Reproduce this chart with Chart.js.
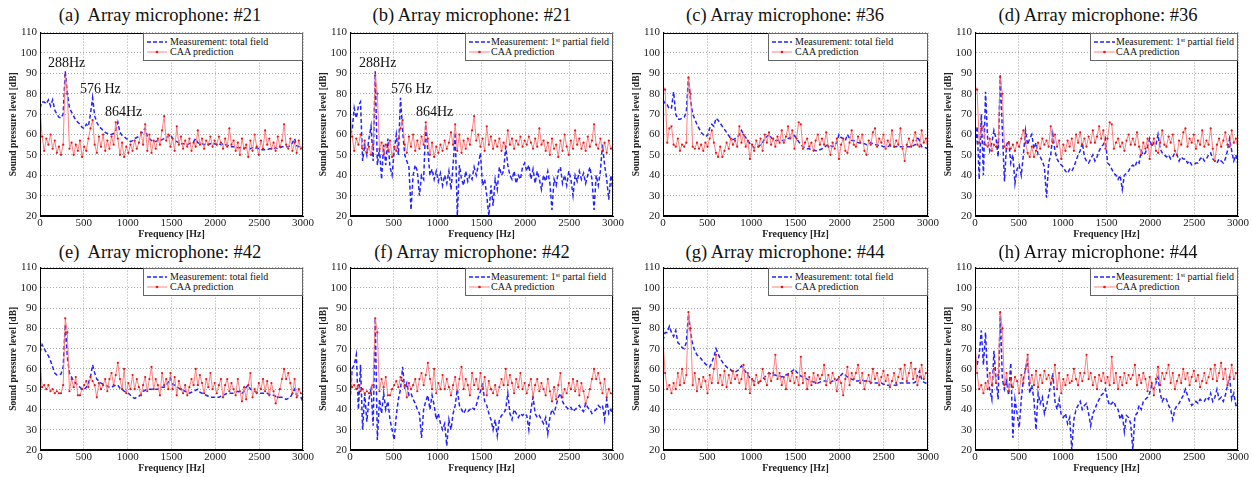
<!DOCTYPE html>
<html>
<head>
<meta charset="utf-8">
<script src="https://cdn.jsdelivr.net/npm/chart.js@4.4.1/dist/chart.umd.min.js"></script>
<style>
  html, body { margin: 0; padding: 0; background: #fff; }
  #page { position: relative; width: 1252px; height: 477px; overflow: hidden; }
  .box { position: absolute; }
  .ttl { position: absolute; white-space: pre; font: 18.5px "Liberation Serif", "DejaVu Serif", serif; color: #111;
         transform: translate(-50%, -50%); line-height: 1; }
  .lgd { position: absolute; background: #fff; border: 1px solid #666; box-sizing: border-box; height: 28px;
         padding-top: 3px; font: 10px "Liberation Serif", serif; color: #111; white-space: nowrap; }
  .lgd .row { height: 10px; line-height: 10px; display: flex; align-items: center; }
  .lgd svg { flex: none; }
  .lgd sup { font-size: 6.5px; vertical-align: 3px; line-height: 0; }
</style>
</head>
<body>
<div id="page"></div>
<script>
/* ═══════════════════════════════════════
   DATA  (frequency grid, 24 Hz steps)
═══════════════════════════════════════ */
const FREQ = [
  0,24,48,72,96,120,144,168,192,216,
  240,264,288,312,336,360,384,408,432,456,
  480,504,528,552,576,600,624,648,672,696,
  720,744,768,792,816,840,864,888,912,936,
  960,984,1008,1032,1056,1080,1104,1128,1152,1176,
  1200,1224,1248,1272,1296,1320,1344,1368,1392,1416,
  1440,1464,1488,1512,1536,1560,1584,1608,1632,1656,
  1680,1704,1728,1752,1776,1800,1824,1848,1872,1896,
  1920,1944,1968,1992,2016,2040,2064,2088,2112,2136,
  2160,2184,2208,2232,2256,2280,2304,2328,2352,2376,
  2400,2424,2448,2472,2496,2520,2544,2568,2592,2616,
  2640,2664,2688,2712,2736,2760,2784,2808,2832,2856,
  2880,2904,2928,2952,2976,3000
];
const X_TICK_STEP = 500;
const Y_TICK_STEP = 10;

// ── mic #21 ──
const CAA_21 = [
  73,59,52,58,55,60,53,57,51,54,
  50,55,89,80,53,56,50,55,52,57,
  49,54,52,58,63,67,55,51,59,54,
  60,52,57,53,59,55,66,58,50,56,
  49,54,51,55,52,57,53,56,61,55,
  65,52,60,51,57,53,58,55,62,69,
  57,60,54,58,52,64,55,59,53,57,
  54,58,52,56,54,62,55,58,53,57,
  55,59,54,57,55,59,56,53,58,54,
  63,55,57,52,56,50,58,53,55,49,
  57,52,60,54,50,57,53,62,55,58,
  53,56,52,59,54,57,65,55,53,58,
  52,56,51,57,53,55
];
const MEAS_TOTAL_21 = [
  73,76,76,75,77,74,77,72,70,68.5,
  68,70,91,80,73,71,69,67,66,65,
  63.5,63,65,64,70,78,69,66,64,63,
  62,61,60.5,60,60,60.5,62,66,61,59.5,
  59,58,57.5,56.5,57,58,58.5,59,60,62,
  63,59,58,57,56.5,56.5,57,57,57.5,58,
  58.5,59,60,58,57,56.5,56,55.5,55.5,55.5,
  55,55.5,56,56.5,58,56,55.5,55.5,55,55.5,
  55,55.5,55,55.5,55,55.5,55,55.5,55,55,
  54,54,54,54,53.5,53.5,54,53.5,53.5,53.5,
  53,53.5,53,53.5,53,52.5,52.5,52.5,52.5,53,
  53,53,53.5,53,53.5,54,54,54,54,54.5,
  56,58,54.5,54,54,53.5
];
const MEAS_PARTIAL_21 = [
  60,62,73,68,74,76,47,55,50,58,
  64,47,91,45,53,38,55,45,58,44,
  40,52,60,50,78,62,50,47,44,23,
  40,45,42,30,40,38,65,52,40,43,
  38,42,37,41,35,40,36,42,33,45,
  61,20,45,38,35,42,37,40,38,44,
  40,45,51,35,38,30,20,35,25,38,
  33,44,40,42,54,45,40,38,42,36,
  40,38,44,46,42,45,38,43,36,42,
  38,33,40,37,42,36,23,38,35,42,
  44,36,40,35,42,38,30,40,37,42,
  38,41,36,40,44,38,23,40,35,42,
  55,45,38,28,40,32
];

// ── mic #36 ──
const CAA_36 = [
  84,82,56,63,64,55,54,58,52,55,
  54,56,88,80,54,53,56,53,55,52,
  56,54,58,62,56,51,49,54,49,52,
  56,53,58,55,57,54,64,56,60,54,
  57,48,55,52,57,54,58,52,60,56,
  61,55,58,54,59,56,62,56,59,64,
  58,62,53,58,66,65,53,56,58,54,
  56,52,57,60,55,58,55,61,54,50,
  56,53,58,48,55,58,52,51,56,62,
  55,54,59,56,60,52,50,57,55,61,
  63,54,58,56,60,53,57,55,62,54,
  57,55,63,53,47,55,58,54,57,61,
  55,54,62,56,58,53
];
const MEAS_TOTAL_36 = [
  77,75,74.5,72.5,73,81,70,67.5,67.5,68,
  68.5,71,88,77,70,67.5,65,63,61,60,
  59,59.5,63,65,64,68,67,65.5,64,62.5,
  61,59.5,58,57.5,58,58.5,60,62,60,58.5,
  57,55.5,54.5,53.5,53.5,54,55,56,58,59,
  60,58.5,57.5,57,57,57,57,57,57.5,58,
  58.5,59,59.5,58,56.5,55,54,53.5,53,53,
  52.5,52.5,52,52,52.5,53,53.5,54.5,55,54.5,
  54,55,56,60,58.5,58,57,60,58,57,
  57,56.5,56,56,55.5,55.5,55,55.5,56,55.5,
  55,55,54.5,54.5,54,54,54,54.5,54,54,
  54,54.5,54,54,54,54,54,54,54.5,55,
  59,57,54,53.5,53.5,53
];
const MEAS_PARTIAL_36 = [
  52,64,38,70,40,81,58,52,56,62,
  58,49,89,62,37,55,57,46,50,36,
  43,45,40,50,62,55,58,60,53,56,
  50,49,47,44,29,46,50,60,52,48,
  46,45,44,42,41,43,42,44,47,50,
  52,56,49,47,46,48,50,47,49,52,
  54,55,58,46,45,43,41,40,38,40,
  33,40,41,42,44,45,44,47,46,52,
  50,51,54,58,54,56,55,60,53,51,
  50,49,50,48,49,51,50,47,49,48,
  48,46,47,45,45,46,46,48,49,47,
  48,50,51,48,47,46,48,47,46,48,
  52,58,52,47,50,45
];

// ── mic #42 ──
const CAA_42 = [
  65,51,52,50,52,49,50,48,49,48,
  48,52,85,78,49,55,51,56,47,47,
  50,52,54,51,56,54,52,46,53,50,
  52,55,49,55,58,52,57,63,55,50,
  60,48,53,50,57,50,55,51,47,52,
  56,49,55,61,50,55,52,47,58,52,
  55,50,58,50,56,47,54,50,48,52,
  47,51,55,52,60,52,57,53,48,55,
  51,58,50,53,48,52,55,46,52,55,
  49,53,50,47,55,49,44,51,45,52,
  58,46,50,48,53,50,55,49,54,47,
  53,49,43,46,50,55,60,55,58,53,
  48,55,46,50,48,47
];
const MEAS_TOTAL_42 = [
  68,72,70,68,66.5,64,61,58,57,57,
  57.5,61,82,66,58,56,54,53,52,51,
  50,50,51,53,56,62,58,55,54,53,
  52.5,52,51.5,51,51,51.5,52,52,50.5,50,
  49,48.5,48,47,46,45.5,46,46.5,47.5,49,
  49.5,50,50,50,50,50,50,50.5,51,51,
  52,53.5,55.5,52.5,52,51,50.5,50,49.5,49,
  48.5,48,48.5,49,49.5,50,48.5,48,47.5,47,
  46.5,46,46,46,46,46,46.5,47,47.5,48,
  48,48,48,48.5,49,48.5,48,49,51,52,
  50,49.5,49,48.5,48,48,48,48,48,47.5,
  47,47,46.5,46,46,46,45.5,45,45.5,46,
  48,50,47,46.5,46,44
];
const MEAS_PARTIAL_42 = [
  44,60,62,67,40,62,30,48,34,45,
  50,32,85,25,45,38,48,40,44,35,
  30,25,37,45,50,61,50,53,47,48,
  45,43,40,38,26,40,44,47,40,47,
  42,35,38,33,30,33,22,35,30,38,
  42,50,42,40,38,40,39,40,41,40,
  42,46,49,53,44,42,38,35,30,35,
  27,35,37,38,40,48,38,35,40,38,
  36,38,37,38,37,30,40,46,38,36,
  37,35,33,36,28,36,40,38,42,46,
  48,44,42,41,40,41,39,40,41,42,
  40,39,43,41,40,38,39,40,42,41,
  42,35,45,38,40,37
];

// ── mic #44 ──
const CAA_44 = [
  74,58,50,52,48,53,50,58,52,60,
  53,57,88,80,52,58,49,55,51,56,
  54,48,57,53,60,67,53,57,52,59,
  51,57,53,59,55,57,53,55,62,50,
  58,48,55,52,57,53,54,60,55,52,
  58,54,58,67,55,58,52,56,50,57,
  54,58,53,56,52,66,53,58,50,56,
  52,58,53,57,55,57,62,52,57,53,
  58,55,49,56,53,47,55,61,52,58,
  55,58,62,53,58,50,54,57,53,60,
  55,58,52,56,59,54,57,51,54,58,
  53,56,60,55,62,54,58,63,55,60,
  52,56,62,55,58,57
];
const MEAS_TOTAL_44 = [
  74,78,78,81,78,76,79,73,72,70.5,
  70,73,87,78,72,69,67,66,65,63.5,
  62.5,61.5,61,63,66,70,67.5,65,63.5,62,
  61,60,59.5,58.5,58.5,59,60,61.5,60,58.5,
  57,55.5,54.5,54,53.5,53.5,54,55,56,57,
  58,57.5,57,57,56.5,56.5,56,56.5,57,57.5,
  58.5,59,60,58.5,57.5,56.5,56,55.5,55,54.5,
  54,53.5,53.5,53,53.5,54,54,54,53.5,53.5,
  54,54,54.5,55.5,57,58,57,56,55.5,55,
  54.5,54,54,54.5,54.5,54,54,54,53.5,53,
  53,53,53,53,52.5,52.5,52,52,52,52,
  52,52.5,53,53,53,53,53,53,53,53.5,
  57,59,55,53.5,53,52
];
const MEAS_PARTIAL_44 = [
  65,62,67,79,62,78,55,50,45,69,
  55,45,88,55,50,54,47,63,26,45,
  38,31,45,55,60,65,48,52,45,30,
  48,43,46,38,42,47,52,58,44,40,
  45,37,36,38,33,36,20,35,40,42,
  44,40,42,43,38,32,38,40,43,45,
  47,48,50,45,42,43,44,41,40,35,
  38,29,37,36,33,20,37,38,42,40,
  44,45,46,48,52,50,53,56,48,44,
  46,45,42,40,35,40,42,43,45,47,
  50,47,44,42,43,44,43,45,44,44,
  46,45,48,44,46,50,45,46,44,47,
  52,56,45,48,42,42
];

/* ═══════════════════════════════════════
   PANELS
═══════════════════════════════════════ */
const PANELS = [
  { tag: '(a)  ', mic: '#21', meas: MEAS_TOTAL_21,   caa: CAA_21, kind: 'total',
    notes: [{ text: '288Hz', f: 91, db: 95 }, { text: '576 Hz', f: 456, db: 82.4 }, { text: '864Hz', f: 741, db: 71 }] },
  { tag: '(b) ', mic: '#21', meas: MEAS_PARTIAL_21, caa: CAA_21, kind: 'partial',
    notes: [{ text: '288Hz', f: 103, db: 95 }, { text: '576 Hz', f: 468, db: 82 }, { text: '864Hz', f: 753, db: 71 }] },
  { tag: '(c) ', mic: '#36', meas: MEAS_TOTAL_36,   caa: CAA_36, kind: 'total' },
  { tag: '(d) ', mic: '#36', meas: MEAS_PARTIAL_36, caa: CAA_36, kind: 'partial' },
  { tag: '(e)  ', mic: '#42', meas: MEAS_TOTAL_42,   caa: CAA_42, kind: 'total' },
  { tag: '(f) ', mic: '#42', meas: MEAS_PARTIAL_42, caa: CAA_42, kind: 'partal' },
  { tag: '(g) ', mic: '#44', meas: MEAS_TOTAL_44,   caa: CAA_44, kind: 'total' },
  { tag: '(h) ', mic: '#44', meas: MEAS_PARTIAL_44, caa: CAA_44, kind: 'partial' },
];

// layout (pixels)
const PLOT_LEFT  = [40, 350, 663, 975];
const PLOT_W     = [263, 263, 265, 263];
const PLOT_TOP   = [31, 266];
const PLOT_H     = [185, 184];
const TITLE_X    = [160, 472, 785, 1098];
const TITLE_Y    = [15, 252];
const Y_AXIS_W = 34, PAD_TOP = 8, PAD_RIGHT = 14, X_AXIS_H = 24;

const SERIF = '"Liberation Serif", "DejaVu Serif", serif';
const BLUE = '#2323ff';
const RED_LINE = 'rgba(255,115,115,0.9)';
const RED_DOT = '#e31515';

/* ── plugins ── */
const frame = {
  id: 'frame',
  afterDraw(chart) {
    const { ctx, chartArea: a } = chart;
    ctx.save();
    ctx.strokeStyle = '#000';
    ctx.lineWidth = 1;
    ctx.strokeRect(Math.round(a.left) + 0.5, Math.round(a.top) + 0.5,
                   Math.round(a.right - a.left) - 1, Math.round(a.bottom - a.top) - 1);
    ctx.restore();
  }
};

const peakLabels = {
  id: 'peakLabels',
  afterDatasetsDraw(chart, args, opts) {
    const items = opts.items || [];
    if (!items.length) return;
    const { ctx, scales: { x, y } } = chart;
    ctx.save();
    ctx.font = '14px ' + SERIF;
    ctx.fillStyle = '#111';
    ctx.textAlign = 'left';
    ctx.textBaseline = 'middle';
    items.forEach(n => ctx.fillText(n.text, x.getPixelForValue(n.f), y.getPixelForValue(n.db)));
    ctx.restore();
  }
};

/* ── legend swatches ── */
const SW_DASH = w => `<svg width="${w}" height="8"><line x1="0" y1="4" x2="${w}" y2="4" stroke="${BLUE}" stroke-width="1.6" stroke-dasharray="4 2"/></svg>`;
const SW_CAA  = w => `<svg width="${w}" height="8"><line x1="0" y1="4" x2="${w}" y2="4" stroke="${RED_LINE}" stroke-width="1"/><circle cx="${w/2}" cy="4" r="1.3" fill="${RED_DOT}"/></svg>`;

function measText(kind) {
  if (kind === 'total') return 'Measurement: total field';
  if (kind === 'partal') return 'Measurement: 1<sup>st</sup> partal field';
  return 'Measurement: 1<sup>st</sup> partial field';
}

/* ── build ── */
const page = document.getElementById('page');

PANELS.forEach((p, k) => {
  const col = k % 4, row = Math.floor(k / 4);
  const pl = PLOT_LEFT[col], pw = PLOT_W[col], pt = PLOT_TOP[row], ph = PLOT_H[row];

  // title
  const t = document.createElement('div');
  t.className = 'ttl';
  t.style.left = TITLE_X[col] + 'px';
  t.style.top = TITLE_Y[row] + 'px';
  t.textContent = p.tag + 'Array microphone: ' + p.mic;
  page.appendChild(t);

  // chart box
  const box = document.createElement('div');
  box.className = 'box';
  box.style.left = (pl - Y_AXIS_W) + 'px';
  box.style.top = (pt - PAD_TOP) + 'px';
  box.style.width = (Y_AXIS_W + pw + PAD_RIGHT) + 'px';
  box.style.height = (PAD_TOP + ph + X_AXIS_H) + 'px';
  const cv = document.createElement('canvas');
  box.appendChild(cv);
  page.appendChild(box);

  const tickFont = { family: SERIF, size: 11 };
  new Chart(cv, {
    type: 'line',
    data: {
      datasets: [
        {
          label: 'CAA prediction',
          data: FREQ.map((f, i) => ({ x: f, y: p.caa[i] })),
          borderColor: RED_LINE,
          borderWidth: 1,
          pointRadius: 1.1,
          pointBorderWidth: 0,
          pointBackgroundColor: RED_DOT,
          tension: 0,
          order: 1,
        },
        {
          label: 'Measurement',
          data: FREQ.map((f, i) => ({ x: f, y: p.meas[i] })),
          borderColor: BLUE,
          borderWidth: 1.5,
          borderDash: [4, 2.5],
          pointRadius: 0,
          tension: 0,
          order: 2,
        }
      ]
    },
    options: {
      responsive: true, maintainAspectRatio: false,
      animation: false,
      events: [],
      layout: { padding: { top: PAD_TOP, right: PAD_RIGHT, left: 0, bottom: 0 } },
      plugins: {
        legend: { display: false },
        tooltip: { enabled: false },
        peakLabels: { items: p.notes || [] }
      },
      scales: {
        x: {
          type: 'linear', min: 0, max: 3000,
          ticks: { stepSize: X_TICK_STEP, padding: 1, color: '#222', font: tickFont,
                   maxRotation: 0, autoSkip: false, callback: v => String(v) },
          grid: { color: 'rgba(0,0,0,0.35)', drawTicks: false },
          border: { color: '#000', dash: [1, 2] },
          title: { display: true, text: 'Frequency [Hz]', color: '#222', padding: 0,
                   font: { family: SERIF, size: 10, weight: 'bold' } },
          afterFit: s => { s.height = X_AXIS_H; }
        },
        y: {
          min: 20, max: 110,
          ticks: { stepSize: Y_TICK_STEP, padding: 3, color: '#222', font: tickFont,
                   callback: v => String(v) },
          grid: { color: 'rgba(0,0,0,0.35)', drawTicks: false },
          border: { color: '#000', dash: [1, 2] },
          title: { display: true, text: 'Sound pressure level [dB]', color: '#222', padding: 2,
                   font: { family: SERIF, size: 9.5, weight: 'bold' } },
          afterFit: s => { s.width = Y_AXIS_W; }
        }
      }
    },
    plugins: [frame, peakLabels]
  });

  // legend
  const total = p.kind === 'total';
  const lw = total ? 160 : 148;
  const lg = document.createElement('div');
  lg.className = 'lgd';
  lg.style.left = (pl + pw - lw) + 'px';
  lg.style.top = (pt + 2) + 'px';
  lg.style.width = lw + 'px';
  lg.style.paddingLeft = '3px';
  const sw = total ? 20 : 21, gap = total ? 3 : 1;
  lg.innerHTML =
    `<div class="row">${SW_DASH(sw)}<span style="margin-left:${gap}px">${measText(p.kind)}</span></div>` +
    `<div class="row">${SW_CAA(sw)}<span style="margin-left:${gap}px">CAA prediction</span></div>`;
  page.appendChild(lg);
});
</script>
</body>
</html>
